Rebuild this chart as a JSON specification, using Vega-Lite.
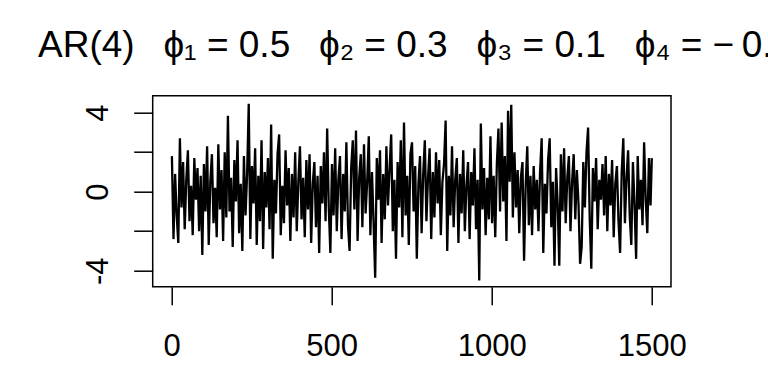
{
  "$schema": "https://vega.github.io/schema/vega-lite/v6.json",
  "width": 518.3,
  "height": 191,
  "autosize": {"type": "none"},
  "padding": {"left": 152.7, "top": 95.7, "right": 97, "bottom": 97.3},
  "background": "white",
  "title": {
    "text": "AR(4)\u2002 ϕ₁ = 0.5\u2002 ϕ₂ = 0.3\u2002 ϕ₃ = 0.1\u2002 ϕ₄ = −\u20090.4",
    "anchor": "start",
    "frame": "group",
    "dx": -114.7,
    "offset": 2,
    "baseline": "alphabetic",
    "font": "Liberation Sans",
    "fontSize": 37,
    "fontWeight": "normal",
    "color": "black"
  },
  "data": {
    "values": [
      {"t": 1, "v": 1.8}, {"t": 6, "v": -2.4}, {"t": 11, "v": 0.9}, {"t": 16, "v": -1.2}, {"t": 21, "v": -2.6}, {"t": 26, "v": 2.7}, {"t": 31, "v": -0.8}, {"t": 36, "v": 1.5}, {"t": 41, "v": -1.9}, {"t": 46, "v": 0.6},
      {"t": 51, "v": 2.1}, {"t": 56, "v": -1.5}, {"t": 61, "v": 0.3}, {"t": 66, "v": -2.2}, {"t": 71, "v": 1.7}, {"t": 76, "v": -0.4}, {"t": 81, "v": 1.2}, {"t": 86, "v": -2.0}, {"t": 91, "v": 0.8}, {"t": 96, "v": -3.2},
      {"t": 101, "v": 1.4}, {"t": 106, "v": -1.0}, {"t": 111, "v": 2.3}, {"t": 116, "v": -2.7}, {"t": 121, "v": 0.5}, {"t": 126, "v": 1.9}, {"t": 131, "v": -1.6}, {"t": 136, "v": 0.2}, {"t": 141, "v": -2.3}, {"t": 146, "v": 2.4},
      {"t": 151, "v": -0.9}, {"t": 156, "v": 1.1}, {"t": 161, "v": -2.5}, {"t": 166, "v": 2.0}, {"t": 171, "v": -1.3}, {"t": 176, "v": 3.85}, {"t": 181, "v": -1.0}, {"t": 186, "v": 0.7}, {"t": 191, "v": -2.8}, {"t": 196, "v": 1.6},
      {"t": 201, "v": -0.5}, {"t": 206, "v": 2.6}, {"t": 211, "v": -2.1}, {"t": 216, "v": 0.4}, {"t": 221, "v": -3.0}, {"t": 226, "v": 1.8}, {"t": 231, "v": -1.2}, {"t": 236, "v": 0.9}, {"t": 241, "v": 4.45}, {"t": 246, "v": -2.4},
      {"t": 251, "v": 1.3}, {"t": 256, "v": -0.6}, {"t": 261, "v": 2.2}, {"t": 266, "v": -2.7}, {"t": 271, "v": 0.8}, {"t": 276, "v": -1.5}, {"t": 281, "v": 2.6}, {"t": 286, "v": -2.9}, {"t": 291, "v": 1.0}, {"t": 296, "v": -0.8},
      {"t": 301, "v": 1.7}, {"t": 306, "v": -1.9}, {"t": 311, "v": 3.4}, {"t": 316, "v": -3.4}, {"t": 321, "v": 0.6}, {"t": 326, "v": -1.1}, {"t": 331, "v": 1.9}, {"t": 336, "v": 2.9}, {"t": 341, "v": -2.2}, {"t": 346, "v": 0.3},
      {"t": 351, "v": -1.6}, {"t": 356, "v": 2.1}, {"t": 361, "v": -0.7}, {"t": 366, "v": 1.2}, {"t": 371, "v": -2.5}, {"t": 376, "v": 0.9}, {"t": 381, "v": -1.3}, {"t": 386, "v": 2.0}, {"t": 391, "v": -2.0}, {"t": 396, "v": 0.5},
      {"t": 401, "v": 2.3}, {"t": 406, "v": -1.4}, {"t": 411, "v": 0.7}, {"t": 416, "v": -2.3}, {"t": 421, "v": 1.6}, {"t": 426, "v": -0.9}, {"t": 431, "v": 1.9}, {"t": 436, "v": -2.6}, {"t": 441, "v": 0.4}, {"t": 446, "v": 1.5},
      {"t": 451, "v": -1.8}, {"t": 456, "v": 0.8}, {"t": 461, "v": -3.1}, {"t": 466, "v": 1.3}, {"t": 471, "v": -0.6}, {"t": 476, "v": 2.0}, {"t": 481, "v": -1.5}, {"t": 486, "v": 3.2}, {"t": 491, "v": -0.8}, {"t": 496, "v": -3.1},
      {"t": 501, "v": 1.4}, {"t": 506, "v": -1.2}, {"t": 511, "v": 2.2}, {"t": 516, "v": -2.0}, {"t": 521, "v": 0.6}, {"t": 526, "v": 1.8}, {"t": 531, "v": -2.4}, {"t": 536, "v": 0.9}, {"t": 541, "v": -1.0}, {"t": 546, "v": 2.5},
      {"t": 551, "v": -1.7}, {"t": 556, "v": -3.0}, {"t": 561, "v": 1.2}, {"t": 566, "v": 2.6}, {"t": 571, "v": -0.9}, {"t": 576, "v": 3.1}, {"t": 581, "v": -2.5}, {"t": 586, "v": 0.7}, {"t": 591, "v": 1.9}, {"t": 596, "v": -1.8},
      {"t": 601, "v": 2.4}, {"t": 606, "v": -1.1}, {"t": 611, "v": 0.5}, {"t": 616, "v": 2.8}, {"t": 621, "v": -2.2}, {"t": 626, "v": 1.0}, {"t": 631, "v": -1.6}, {"t": 636, "v": -4.35}, {"t": 641, "v": 1.7}, {"t": 646, "v": -0.4},
      {"t": 651, "v": 2.1}, {"t": 656, "v": -2.6}, {"t": 661, "v": 0.9}, {"t": 666, "v": -1.4}, {"t": 671, "v": 2.3}, {"t": 676, "v": -0.7}, {"t": 681, "v": 1.2}, {"t": 686, "v": 2.9}, {"t": 691, "v": -2.0}, {"t": 696, "v": 0.6},
      {"t": 701, "v": -3.4}, {"t": 706, "v": 1.5}, {"t": 711, "v": -0.8}, {"t": 716, "v": 2.6}, {"t": 721, "v": -2.3}, {"t": 726, "v": 3.5}, {"t": 731, "v": -1.2}, {"t": 736, "v": 0.8}, {"t": 741, "v": -2.7}, {"t": 746, "v": 1.9},
      {"t": 751, "v": 2.5}, {"t": 756, "v": -1.0}, {"t": 761, "v": 1.3}, {"t": 766, "v": -3.4}, {"t": 771, "v": 0.4}, {"t": 776, "v": 1.8}, {"t": 781, "v": -2.1}, {"t": 786, "v": 0.9}, {"t": 791, "v": 2.6}, {"t": 796, "v": -1.5},
      {"t": 801, "v": 0.7}, {"t": 806, "v": 2.2}, {"t": 811, "v": -2.4}, {"t": 816, "v": 1.0}, {"t": 821, "v": -1.3}, {"t": 826, "v": 2.0}, {"t": 831, "v": -0.6}, {"t": 836, "v": 1.6}, {"t": 841, "v": -2.2}, {"t": 846, "v": 0.5},
      {"t": 851, "v": 1.4}, {"t": 856, "v": 3.6}, {"t": 861, "v": -3.0}, {"t": 866, "v": 0.8}, {"t": 871, "v": -1.2}, {"t": 876, "v": 2.3}, {"t": 881, "v": -1.8}, {"t": 886, "v": 0.6}, {"t": 891, "v": 1.7}, {"t": 896, "v": -2.6},
      {"t": 901, "v": 0.9}, {"t": 906, "v": -1.1}, {"t": 911, "v": 2.1}, {"t": 916, "v": -2.0}, {"t": 921, "v": 0.3}, {"t": 926, "v": 1.5}, {"t": 931, "v": -2.4}, {"t": 936, "v": 1.0}, {"t": 941, "v": -0.7}, {"t": 946, "v": 2.2},
      {"t": 951, "v": -1.9}, {"t": 956, "v": 0.6}, {"t": 961, "v": -4.5}, {"t": 966, "v": 3.45}, {"t": 971, "v": -0.9}, {"t": 976, "v": 1.2}, {"t": 981, "v": -2.2}, {"t": 986, "v": 0.7}, {"t": 991, "v": -1.4}, {"t": 996, "v": 2.8},
      {"t": 1001, "v": -1.6}, {"t": 1006, "v": 0.8}, {"t": 1011, "v": -2.3}, {"t": 1016, "v": 1.4}, {"t": 1021, "v": 3.2}, {"t": 1026, "v": -1.0}, {"t": 1031, "v": 3.5}, {"t": 1036, "v": -0.5}, {"t": 1041, "v": 1.8}, {"t": 1046, "v": -2.5},
      {"t": 1051, "v": 4.1}, {"t": 1056, "v": 0.5}, {"t": 1061, "v": 4.4}, {"t": 1066, "v": -1.3}, {"t": 1071, "v": 2.0}, {"t": 1076, "v": -0.8}, {"t": 1081, "v": 1.1}, {"t": 1086, "v": -2.1}, {"t": 1091, "v": 0.7}, {"t": 1096, "v": 1.5},
      {"t": 1101, "v": -3.5}, {"t": 1106, "v": 0.3}, {"t": 1111, "v": 2.3}, {"t": 1116, "v": -1.7}, {"t": 1121, "v": 0.8}, {"t": 1126, "v": -2.2}, {"t": 1131, "v": 1.3}, {"t": 1136, "v": -0.9}, {"t": 1141, "v": 0.6}, {"t": 1146, "v": -2.0},
      {"t": 1151, "v": 1.0}, {"t": 1156, "v": 2.7}, {"t": 1161, "v": -3.1}, {"t": 1166, "v": 0.4}, {"t": 1171, "v": -1.1}, {"t": 1176, "v": 1.6}, {"t": 1181, "v": 2.7}, {"t": 1186, "v": -1.8}, {"t": 1191, "v": 0.5}, {"t": 1196, "v": -3.75},
      {"t": 1201, "v": 1.2}, {"t": 1206, "v": -0.6}, {"t": 1211, "v": -3.75}, {"t": 1216, "v": 1.9}, {"t": 1221, "v": -1.0}, {"t": 1226, "v": 2.2}, {"t": 1231, "v": -1.6}, {"t": 1236, "v": 0.7}, {"t": 1241, "v": 1.8}, {"t": 1246, "v": -2.0},
      {"t": 1251, "v": 0.5}, {"t": 1256, "v": 1.9}, {"t": 1261, "v": -1.4}, {"t": 1266, "v": 1.1}, {"t": 1271, "v": -0.6}, {"t": 1276, "v": -3.65}, {"t": 1281, "v": -2.8}, {"t": 1286, "v": 1.5}, {"t": 1291, "v": -0.8}, {"t": 1296, "v": 2.0},
      {"t": 1301, "v": 3.25}, {"t": 1306, "v": -1.3}, {"t": 1311, "v": -3.9}, {"t": 1316, "v": 1.2}, {"t": 1321, "v": -0.5}, {"t": 1326, "v": 1.7}, {"t": 1331, "v": -1.9}, {"t": 1336, "v": 0.6}, {"t": 1341, "v": -0.4}, {"t": 1346, "v": 1.4},
      {"t": 1351, "v": -1.2}, {"t": 1356, "v": 1.8}, {"t": 1361, "v": -2.0}, {"t": 1366, "v": 0.9}, {"t": 1371, "v": -0.7}, {"t": 1376, "v": 1.6}, {"t": 1381, "v": -2.3}, {"t": 1386, "v": 0.4}, {"t": 1391, "v": 1.3}, {"t": 1396, "v": -1.5},
      {"t": 1401, "v": -3.1}, {"t": 1406, "v": 1.0}, {"t": 1411, "v": 2.7}, {"t": 1416, "v": -1.6}, {"t": 1421, "v": 0.7}, {"t": 1426, "v": 2.1}, {"t": 1431, "v": -1.2}, {"t": 1436, "v": -2.7}, {"t": 1441, "v": 1.5}, {"t": 1446, "v": -0.6},
      {"t": 1451, "v": -3.4}, {"t": 1456, "v": 1.8}, {"t": 1461, "v": -0.9}, {"t": 1466, "v": 0.6}, {"t": 1471, "v": -1.7}, {"t": 1476, "v": 2.5}, {"t": 1481, "v": -0.4}, {"t": 1486, "v": -2.1}, {"t": 1491, "v": 1.7}, {"t": 1496, "v": -0.7},
      {"t": 1500, "v": 1.7}
    ]
  },
  "mark": {"type": "line", "color": "black", "strokeWidth": 2.3, "interpolate": "linear"},
  "encoding": {
    "x": {
      "field": "t",
      "type": "quantitative",
      "scale": {"domain": [-58.96, 1559.96], "nice": false, "zero": false},
      "axis": {
        "title": null,
        "values": [0, 500, 1000, 1500],
        "format": "d",
        "grid": false,
        "domain": false,
        "tickColor": "black",
        "tickWidth": 1.5,
        "tickSize": 18,
        "labelFont": "Liberation Sans",
        "labelFontSize": 31,
        "labelColor": "black",
        "labelPadding": 27,
        "labelFlush": false,
        "labelOverlap": false
      }
    },
    "y": {
      "field": "v",
      "type": "quantitative",
      "scale": {"domain": [-4.81, 4.86], "nice": false, "zero": false},
      "axis": {
        "title": null,
        "values": [-4, -2, 0, 2, 4],
        "labelExpr": "datum.value % 4 == 0 ? toString(datum.value) : ''",
        "grid": false,
        "domain": false,
        "tickColor": "black",
        "tickWidth": 1.5,
        "tickSize": 19,
        "labelFont": "Liberation Sans",
        "labelFontSize": 31,
        "labelColor": "black",
        "labelAngle": -90,
        "labelAlign": "center",
        "labelBaseline": "alphabetic",
        "labelPadding": 26,
        "labelFlush": false,
        "labelOverlap": false
      }
    }
  },
  "config": {
    "view": {"stroke": "black", "strokeWidth": 1.5},
    "font": "Liberation Sans"
  }
}
